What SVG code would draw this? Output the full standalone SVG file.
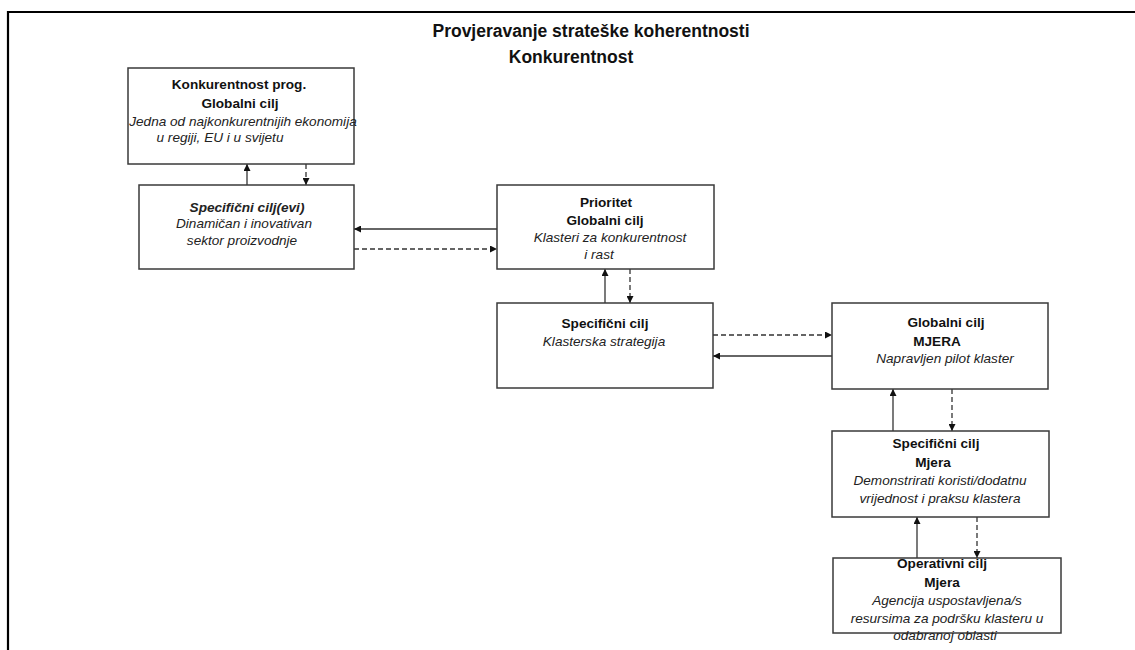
<svg xmlns="http://www.w3.org/2000/svg" width="1135" height="650" viewBox="0 0 1135 650">
  <style>
    .box { fill: #ffffff; stroke: #3a3a3a; stroke-width: 1.5; }
    .t { font-family: "Liberation Sans", Arial, sans-serif; font-size: 13.6px; fill: #111; text-anchor: middle; }
    .b { font-weight: bold; }
    .i { font-style: italic; fill: #222; }
    .title { font-family: "Liberation Sans", Arial, sans-serif; font-size: 17.5px; font-weight: bold; fill: #111; text-anchor: middle; }
    .solid { stroke: #333; stroke-width: 1.3; fill: none; marker-end: url(#arrow); }
    .dash { stroke: #333; stroke-width: 1.3; fill: none; stroke-dasharray: 5 3; marker-end: url(#arrow); }
  </style>
  <defs>
    <marker id="arrow" viewBox="0 0 10 10" refX="10" refY="5" markerWidth="7" markerHeight="7" markerUnits="userSpaceOnUse" orient="auto">
      <path d="M0,0 L10,5 L0,10 z" fill="#111"/>
    </marker>
  </defs>

  <rect x="0" y="0" width="1135" height="650" fill="#ffffff"/>
  <!-- page frame -->
  <path d="M8,650 L8,12 L1135,12" fill="none" stroke="#000" stroke-width="2.2"/>

  <g id="title">
    <text class="title" x="591" y="37">Provjeravanje strateške koherentnosti</text>
    <text class="title" x="571" y="63">Konkurentnost</text>
  </g>

  <g id="connectors">
    <line class="solid" x1="247" y1="185" x2="247" y2="164"/>
    <line class="dash" x1="306" y1="164" x2="306" y2="185"/>
    <line class="solid" x1="497" y1="229" x2="354" y2="229"/>
    <line class="dash" x1="354" y1="249" x2="497" y2="249"/>
    <line class="solid" x1="605" y1="303" x2="605" y2="269"/>
    <line class="dash" x1="630" y1="269" x2="630" y2="303"/>
    <line class="dash" x1="713" y1="335" x2="832" y2="335"/>
    <line class="solid" x1="832" y1="356" x2="713" y2="356"/>
    <line class="solid" x1="893" y1="431" x2="893" y2="389"/>
    <line class="dash" x1="952" y1="389" x2="952" y2="431"/>
    <line class="solid" x1="917" y1="558" x2="917" y2="517"/>
    <line class="dash" x1="977" y1="517" x2="977" y2="558"/>
  </g>

  <g id="program-global">
    <rect class="box" x="128" y="68" width="226" height="96"/>
    <text class="t b" x="239" y="89">Konkurentnost prog.</text>
    <text class="t b" x="240" y="108">Globalni cilj</text>
    <text class="t i" x="243" y="126">Jedna od najkonkurentnijih ekonomija</text>
    <text class="t i" x="220" y="142">u regiji, EU i u svijetu</text>
  </g>

  <g id="program-specific">
    <rect class="box" x="139" y="185" width="215" height="84"/>
    <text class="t b i" x="247" y="212">Specifični cilj(evi)</text>
    <text class="t i" x="244" y="228">Dinamičan i inovativan</text>
    <text class="t i" x="242" y="245">sektor proizvodnje</text>
  </g>

  <g id="priority-global">
    <rect class="box" x="497" y="185" width="217" height="84"/>
    <text class="t b" x="606" y="207">Prioritet</text>
    <text class="t b" x="605" y="225">Globalni cilj</text>
    <text class="t i" x="610" y="242">Klasteri za konkurentnost</text>
    <text class="t i" x="599" y="259">i rast</text>
  </g>

  <g id="priority-specific">
    <rect class="box" x="497" y="303" width="216" height="85"/>
    <text class="t b" x="605" y="328">Specifični cilj</text>
    <text class="t i" x="604" y="346">Klasterska strategija</text>
  </g>

  <g id="measure-global">
    <rect class="box" x="832" y="303" width="216" height="86"/>
    <text class="t b" x="946" y="327">Globalni cilj</text>
    <text class="t b" x="937" y="346">MJERA</text>
    <text class="t i" x="945" y="363">Napravljen pilot klaster</text>
  </g>

  <g id="measure-specific">
    <rect class="box" x="832" y="431" width="217" height="86"/>
    <text class="t b" x="936" y="448">Specifični cilj</text>
    <text class="t b" x="933" y="467">Mjera</text>
    <text class="t i" x="940" y="485">Demonstrirati koristi/dodatnu</text>
    <text class="t i" x="940" y="503">vrijednost i praksu klastera</text>
  </g>

  <g id="measure-operative">
    <rect class="box" x="833" y="558" width="228" height="75"/>
    <text class="t b" x="942" y="568">Operativni cilj</text>
    <text class="t b" x="942" y="587">Mjera</text>
    <text class="t i" x="947" y="605">Agencija uspostavljena/s</text>
    <text class="t i" x="947" y="623">resursima za podršku klasteru u</text>
    <text class="t i" x="945" y="640">odabranoj oblasti</text>
  </g>
</svg>
